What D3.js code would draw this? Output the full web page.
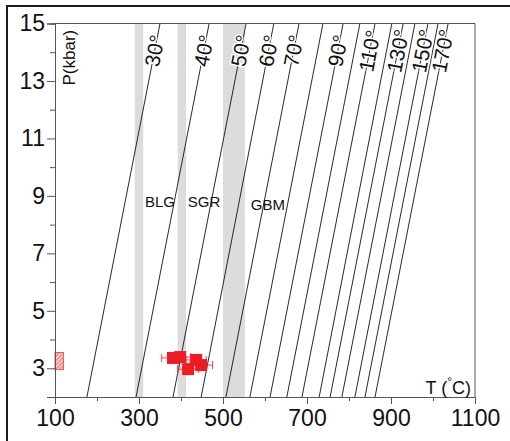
<!DOCTYPE html>
<html>
<head>
<meta charset="utf-8">
<script src="https://cdn.jsdelivr.net/npm/d3@7"></script>
<style>
  html, body { margin: 0; padding: 0; background: #fff; }
  svg { display: block; font-family: "Liberation Sans", Arial, Helvetica, sans-serif; }
</style>
</head>
<body>
<svg id="chart" width="510" height="441"></svg>
<script>
// ---- axis ticks ----
const tempMajor = [100, 300, 500, 700, 900, 1100];
const tempMinor = [200, 400, 600, 800, 1000];
const pressMajor = [3, 5, 7, 9, 11, 13, 15];
const pressMinor = [2, 4, 6, 8, 10, 12, 14];

// ---- quartz c-axis opening-angle isopleths (T in °C at 2 and 15 kbar) ----
const isoAngle   = [30, 40, 50, 60, 70, 80, 90, 100, 110, 120, 130, 140, 150, 160, 170];
const isoTempLow = [176, 293, 381, 448, 507, 564, 612, 652, 688, 729, 755, 783, 814, 838, 862];
const isoTempHigh = [350, 467, 555, 621, 681, 738, 786, 826, 862, 902, 929, 957, 988, 1012, 1036];
const labeledAngles = [30, 40, 50, 60, 70, 90, 110, 130, 150, 170];

// ---- recrystallisation transition bands (°C) ----
const bandFrom = [290, 392, 500];
const bandTo   = [310, 412, 552];
const regimeName = ["BLG", "SGR", "GBM"];
const regimeT = [350, 455, 607];
const regimeP = [8.8, 8.8, 8.7];

// ---- samples ----
const sampleT    = [381, 398, 436, 417, 448];
const sampleP    = [3.36, 3.39, 3.29, 2.97, 3.11];
const sampleTErr = [27, 25, 24, 25, 27];

// ---- hatched range box ----
const rangeT = [100, 120];
const rangeP = [2.95, 3.55];

const svg = d3.select("#chart");

const x = d3.scaleLinear().domain([100, 1100]).range([55, 475]);
const y = d3.scaleLinear().domain([2, 15]).range([397, 23.5]);

// outer frame
svg.append("rect")
  .attr("x", 7).attr("y", 6).attr("width", 530).attr("height", 470)
  .attr("fill", "none").attr("stroke", "#1a1a1a").attr("stroke-width", 2);

// hatch pattern
const defs = svg.append("defs");
const pat = defs.append("pattern")
  .attr("id", "hatch").attr("patternUnits", "userSpaceOnUse")
  .attr("width", 3).attr("height", 3)
  .attr("patternTransform", "rotate(45)");
pat.append("rect").attr("width", 3).attr("height", 3).attr("fill", "#fbd0cc");
pat.append("line").attr("x1", 0).attr("y1", 0).attr("x2", 0).attr("y2", 3)
  .attr("stroke", "#ee3b35").attr("stroke-width", 1.3);

// grey transition bands
svg.append("g").selectAll("rect")
  .data(bandFrom.map((d, i) => [d, bandTo[i]]))
  .join("rect")
  .attr("x", d => x(d[0]))
  .attr("width", d => x(d[1]) - x(d[0]))
  .attr("y", y(15))
  .attr("height", y(2) - y(15))
  .attr("fill", "#dcdcdc");

// isopleth lines
const line = d3.line().x(d => x(d[0])).y(d => y(d[1]));
const isoData = isoAngle.map((a, i) => ({
  angle: a,
  pts: [[isoTempLow[i], 2], [isoTempHigh[i], 15]]
}));
svg.append("g").selectAll("path")
  .data(isoData)
  .join("path")
  .attr("d", d => line(d.pts))
  .attr("fill", "none")
  .attr("stroke", "#111")
  .attr("stroke-width", 0.9);

// isopleth labels, drawn along the line near its top end
const labelP = 14.05;
svg.append("g").selectAll("text")
  .data(isoData.filter(d => labeledAngles.includes(d.angle)))
  .join("text")
  .attr("transform", d => {
    const [a, b] = d.pts;
    const t = (labelP - a[1]) / (b[1] - a[1]);
    const T = a[0] + t * (b[0] - a[0]);
    const ang = Math.atan2(y(b[1]) - y(a[1]), x(b[0]) - x(a[0])) * 180 / Math.PI;
    return `translate(${x(T)},${y(labelP)}) rotate(${ang})`;
  })
  .attr("text-anchor", "middle")
  .attr("dy", "0.35em")
  .attr("font-size", 21)
  .attr("fill", "#111")
  .attr("stroke", "#fff")
  .attr("stroke-width", 3)
  .attr("paint-order", "stroke")
  .text(d => d.angle + "°");

// regime labels
svg.append("g").selectAll("text")
  .data(regimeName.map((n, i) => ({ n, T: regimeT[i], P: regimeP[i] })))
  .join("text")
  .attr("x", d => x(d.T)).attr("y", d => y(d.P))
  .attr("dy", "0.35em")
  .attr("text-anchor", "middle")
  .attr("font-size", 15)
  .attr("fill", "#111")
  .text(d => d.n);

// hatched range box
svg.append("rect")
  .attr("x", x(rangeT[0])).attr("y", y(rangeP[1]))
  .attr("width", x(rangeT[1]) - x(rangeT[0]))
  .attr("height", y(rangeP[0]) - y(rangeP[1]))
  .attr("fill", "url(#hatch)")
  .attr("stroke", "#ee3b35").attr("stroke-width", 0.8);

// samples: error bars then squares
const samples = sampleT.map((t, i) => ({ T: t, P: sampleP[i], e: sampleTErr[i] }));
const eb = svg.append("g").attr("stroke", "#f0453f").attr("stroke-width", 1);
samples.forEach(d => {
  const yy = y(d.P);
  eb.append("line").attr("x1", x(d.T - d.e)).attr("x2", x(d.T + d.e)).attr("y1", yy).attr("y2", yy);
  [d.T - d.e, d.T + d.e].forEach(v => {
    eb.append("line").attr("x1", x(v)).attr("x2", x(v)).attr("y1", yy - 4).attr("y2", yy + 4);
  });
});
const sq = 12;
svg.append("g").selectAll("rect")
  .data(samples)
  .join("rect")
  .attr("x", d => x(d.T) - sq / 2)
  .attr("y", d => y(d.P) - sq / 2)
  .attr("width", sq).attr("height", sq)
  .attr("fill", "#ec1c24");

// plot box (top and right edges)
svg.append("path")
  .attr("d", `M${x(100)},${y(15)}H${x(1100)}V${y(2)}`)
  .attr("fill", "none").attr("stroke", "#555").attr("stroke-width", 1);

// axes
function styleAxis(g) {
  g.select(".domain").attr("stroke", "#555");
  g.selectAll(".tick line").attr("stroke", "#555");
  g.selectAll(".tick text").attr("fill", "#111").attr("font-family", null);
}
svg.append("g").attr("transform", `translate(0,${y(2)})`)
  .call(d3.axisBottom(x).tickValues(tempMinor).tickSize(4).tickFormat(""))
  .call(styleAxis);
svg.append("g").attr("transform", `translate(0,${y(2)})`)
  .call(d3.axisBottom(x).tickValues(tempMajor).tickSize(7).tickPadding(6).tickFormat(d3.format("d")))
  .call(styleAxis)
  .selectAll(".tick text").attr("font-size", 23);

svg.append("g").attr("transform", `translate(${x(100)},0)`)
  .call(d3.axisLeft(y).tickValues(pressMinor).tickSize(5).tickFormat(""))
  .call(styleAxis);
svg.append("g").attr("transform", `translate(${x(100)},0)`)
  .call(d3.axisLeft(y).tickValues(pressMajor).tickSize(8).tickPadding(2).tickFormat(d3.format("d")))
  .call(styleAxis)
  .selectAll(".tick text").attr("font-size", 23);

// axis titles
svg.append("text")
  .attr("transform", `translate(${x(100) + 20},${y(15) + 62}) rotate(-90)`)
  .attr("font-size", 17).attr("fill", "#111")
  .text("P(kbar)");

const tt = svg.append("text")
  .attr("x", x(1100) - 4).attr("y", y(2) - 3)
  .attr("text-anchor", "end")
  .attr("font-size", 18).attr("fill", "#111");
tt.append("tspan").text("T (");
tt.append("tspan").attr("font-size", 12).attr("dy", -8).text("°");
tt.append("tspan").attr("dy", 8).text("C)");
</script>
</body>
</html>
